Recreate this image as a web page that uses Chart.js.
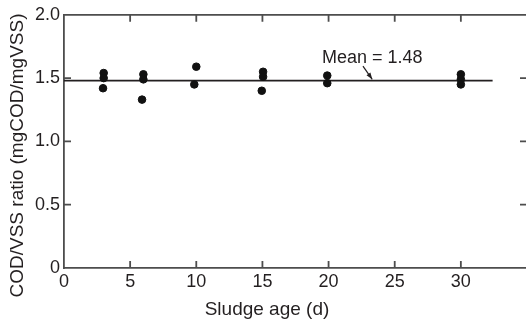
<!DOCTYPE html>
<html>
<head>
<meta charset="utf-8">
<script src="https://cdn.jsdelivr.net/npm/chart.js@4.4.1/dist/chart.umd.min.js"></script>
<style>
  html, body { margin: 0; padding: 0; background: #fff; overflow: hidden; }
  #chart { display: block; }
</style>
</head>
<body>
<canvas id="chart" width="540" height="323" style="width:540px;height:323px"></canvas>
<script>
// sludge age (d) and measured COD/VSS ratio for each sample
const sludgeAge = [3, 3, 2.95, 6, 6, 5.9, 10, 9.85, 15.05, 15.05, 14.95, 19.9, 19.9, 30, 30, 30];
const codVssRatio = [1.54, 1.50, 1.42, 1.53, 1.49, 1.33, 1.59, 1.45, 1.55, 1.51, 1.40, 1.52, 1.46, 1.53, 1.49, 1.45];
const meanValue = 1.48;
const meanLineX = [0, 32.4];
const meanLabel = 'Mean = 1.48';
const yTicks = [0, 0.5, 1.0, 1.5, 2.0];
const xTicks = [0, 5, 10, 15, 20, 25, 30];
const xTitle = 'Sludge age (d)';
const yTitle = 'COD/VSS ratio (mgCOD/mgVSS)';

const INK = '#231f20';
const AXIS = '#4d4d4d';
const FONT = "'Liberation Sans', Arial, Helvetica, sans-serif";

const points = sludgeAge.map((x, i) => ({ x: x, y: codVssRatio[i] }));
const meanLine = meanLineX.map(x => ({ x: x, y: meanValue }));

// inward tick marks on all four sides plus the top frame line
const frameTicks = {
    id: 'frameTicks',
    afterDraw(chart) {
        const ctx = chart.ctx;
        const area = chart.chartArea;
        const xs = chart.scales.x;
        const ys = chart.scales.y;
        ctx.save();
        ctx.strokeStyle = AXIS;
        ctx.lineWidth = 1.8;
        ctx.beginPath();
        ctx.moveTo(area.left, area.top);
        ctx.lineTo(area.right, area.top);
        xTicks.filter(v => v > 0).forEach(v => {
            const px = xs.getPixelForValue(v);
            ctx.moveTo(px, area.bottom);
            ctx.lineTo(px, area.bottom - 7);
            ctx.moveTo(px, area.top);
            ctx.lineTo(px, area.top + 7);
        });
        yTicks.filter(v => v > 0 && v < 2).forEach(v => {
            const py = ys.getPixelForValue(v);
            ctx.moveTo(area.left, py);
            ctx.lineTo(area.left + 7, py);
            ctx.moveTo(area.right, py);
            ctx.lineTo(area.right - 7, py);
        });
        ctx.stroke();
        ctx.restore();
    }
};

// axis titles sit a bit off the plot-area centre in the original, so place them here
const axisTitles = {
    id: 'axisTitles',
    afterDraw(chart) {
        const ctx = chart.ctx;
        ctx.save();
        ctx.fillStyle = INK;
        ctx.font = '19px ' + FONT;
        ctx.textAlign = 'center';
        ctx.textBaseline = 'middle';
        ctx.fillText(xTitle, 267, 310);
        ctx.translate(18, 155.5);
        ctx.rotate(-Math.PI / 2);
        ctx.fillText(yTitle, 0, 0);
        ctx.restore();
    }
};

// "Mean = 1.48" note with its little arrow
const meanNote = {
    id: 'meanNote',
    afterDatasetsDraw(chart) {
        const ctx = chart.ctx;
        const xs = chart.scales.x;
        const ys = chart.scales.y;
        ctx.save();
        ctx.fillStyle = INK;
        ctx.font = '18px ' + FONT;
        ctx.textAlign = 'left';
        ctx.textBaseline = 'alphabetic';
        ctx.fillText(meanLabel, xs.getPixelForValue(19.5), ys.getPixelForValue(1.62));

        const x1 = xs.getPixelForValue(22.6), y1 = ys.getPixelForValue(1.595);
        const x2 = xs.getPixelForValue(23.3), y2 = ys.getPixelForValue(1.49);
        ctx.strokeStyle = INK;
        ctx.lineWidth = 1.2;
        ctx.beginPath();
        ctx.moveTo(x1, y1);
        ctx.lineTo(x2, y2);
        ctx.stroke();
        const ang = Math.atan2(y2 - y1, x2 - x1);
        ctx.beginPath();
        ctx.moveTo(x2, y2);
        ctx.lineTo(x2 - 7 * Math.cos(ang - 0.35), y2 - 7 * Math.sin(ang - 0.35));
        ctx.lineTo(x2 - 7 * Math.cos(ang + 0.35), y2 - 7 * Math.sin(ang + 0.35));
        ctx.closePath();
        ctx.fill();
        ctx.restore();
    }
};

new Chart(document.getElementById('chart'), {
    type: 'scatter',
    data: {
        datasets: [
            {
                data: points,
                backgroundColor: '#111',
                borderColor: '#111',
                pointRadius: 3.8,
                pointHoverRadius: 3.8,
                showLine: false
            },
            {
                type: 'line',
                data: meanLine,
                borderColor: INK,
                borderWidth: 1.6,
                pointRadius: 0,
                fill: false
            }
        ]
    },
    options: {
        responsive: false,
        devicePixelRatio: 1,
        animation: false,
        layout: { padding: { top: 14, right: 13, left: 0, bottom: 0 } },
        plugins: {
            legend: { display: false },
            tooltip: { enabled: false }
        },
        scales: {
            x: {
                type: 'linear',
                min: 0,
                max: 35,
                afterFit: scale => { scale.height = 55; },
                afterBuildTicks: scale => {
                    scale.ticks = xTicks.concat([35]).map(v => ({ value: v }));
                },
                grid: { display: false, drawTicks: false },
                border: { display: true, color: AXIS, width: 1.8 },
                ticks: {
                    color: INK,
                    padding: 3,
                    maxRotation: 0,
                    font: { family: FONT, size: 18 },
                    callback: v => (v <= 30 ? String(v) : '')
                },
                title: { display: false }
            },
            y: {
                min: 0,
                max: 2,
                afterFit: scale => { scale.width = 64; },
                afterBuildTicks: scale => {
                    scale.ticks = yTicks.map(v => ({ value: v }));
                },
                grid: { display: false, drawTicks: false },
                border: { display: true, color: AXIS, width: 1.8 },
                ticks: {
                    color: INK,
                    padding: 4,
                    font: { family: FONT, size: 18 },
                    callback: v => (v === 0 ? '0' : v.toFixed(1))
                },
                title: { display: false }
            }
        }
    },
    plugins: [frameTicks, axisTitles, meanNote]
});
</script>
</body>
</html>
